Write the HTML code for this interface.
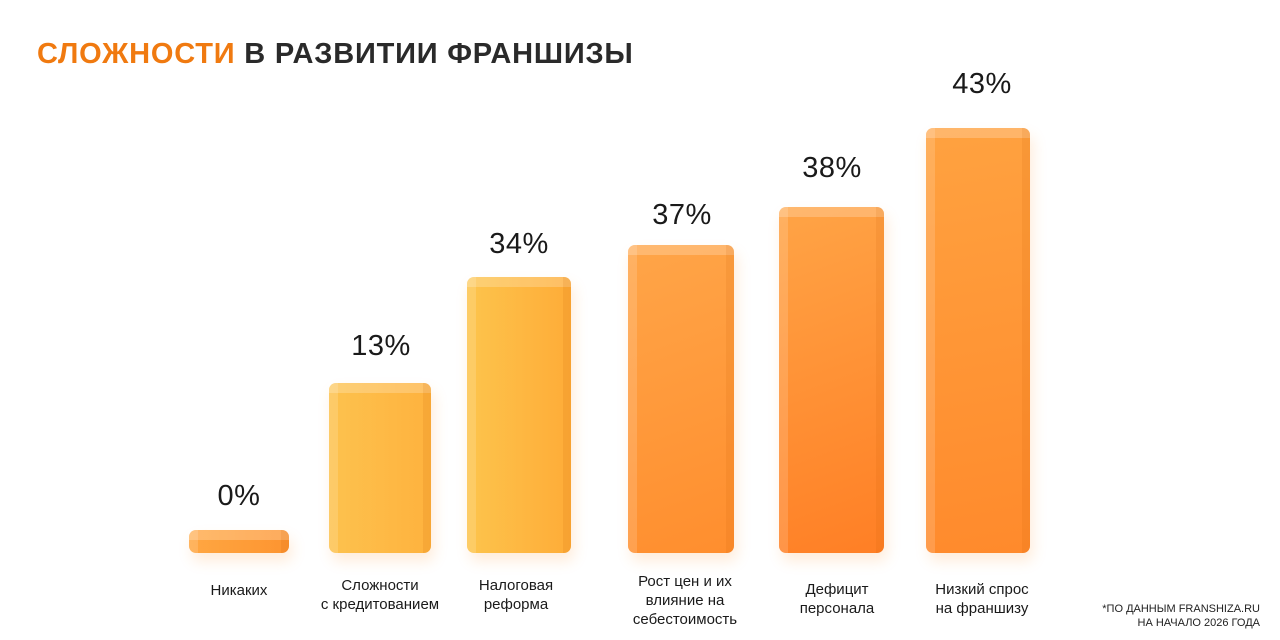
<!DOCTYPE html><html><head><meta charset="utf-8"><style>
body{margin:0;width:1280px;height:640px;background:#fff;font-family:"Liberation Sans",sans-serif;position:relative;overflow:hidden}
.t{position:absolute;left:37px;top:38px;font-size:29px;font-weight:bold;color:#2a2a2a;letter-spacing:0.8px}
.t span{color:#f07a10}
.b{position:absolute;border-radius:7px;box-shadow:3px 8px 14px rgba(255,150,50,0.18);overflow:hidden}
.b:before{content:"";position:absolute;left:0;right:0;top:0;height:10px;background:rgba(255,255,255,0.22)}
.b:after{content:"";position:absolute;top:0;bottom:0;right:0;width:8px;background:rgba(200,90,0,0.12)}
.b i{position:absolute;top:0;bottom:0;left:0;width:9px;background:rgba(255,255,255,0.15)}
.p{position:absolute;width:140px;text-align:center;font-size:29px;color:#1a1a1a;letter-spacing:0.5px}
.l{position:absolute;width:160px;text-align:center;font-size:15px;line-height:19px;color:#1a1a1a}
.n{position:absolute;right:20px;top:602px;font-size:11px;line-height:14px;text-align:right;color:#222}
</style></head><body>
<div class="t"><span>СЛОЖНОСТИ</span> В РАЗВИТИИ ФРАНШИЗЫ</div>

<div class="b" style="left:189px;top:530px;width:100px;height:23px;background:linear-gradient(90deg,#ffa742,#fd9430)"><i></i></div>
<div class="b" style="left:329px;top:383px;width:102px;height:170px;background:linear-gradient(90deg,#fdc24e,#feb23e)"><i></i></div>
<div class="b" style="left:467px;top:277px;width:104px;height:276px;background:linear-gradient(90deg,#fdc44c,#feac38)"><i></i></div>
<div class="b" style="left:628px;top:245px;width:106px;height:308px;background:linear-gradient(160deg,#ffa548,#ff8e2e)"><i></i></div>
<div class="b" style="left:779px;top:207px;width:105px;height:346px;background:linear-gradient(160deg,#ffa446,#ff7f25)"><i></i></div>
<div class="b" style="left:926px;top:128px;width:104px;height:425px;background:linear-gradient(170deg,#ffa240,#ff8a2c)"><i></i></div>

<div class="p" style="left:169px;top:480px">0%</div>
<div class="p" style="left:311px;top:330px">13%</div>
<div class="p" style="left:449px;top:228px">34%</div>
<div class="p" style="left:612px;top:199px">37%</div>
<div class="p" style="left:762px;top:152px">38%</div>
<div class="p" style="left:912px;top:68px">43%</div>

<div class="l" style="left:159px;top:581px">Никаких</div>
<div class="l" style="left:300px;top:576px">Сложности<br>с кредитованием</div>
<div class="l" style="left:436px;top:576px">Налоговая<br>реформа</div>
<div class="l" style="left:605px;top:572px">Рост цен и их<br>влияние на<br>себестоимость</div>
<div class="l" style="left:757px;top:580px">Дефицит<br>персонала</div>
<div class="l" style="left:902px;top:580px">Низкий спрос<br>на франшизу</div>

<div class="n">*ПО ДАННЫМ FRANSHIZA.RU<br>НА НАЧАЛО 2026 ГОДА</div>
</body></html>
